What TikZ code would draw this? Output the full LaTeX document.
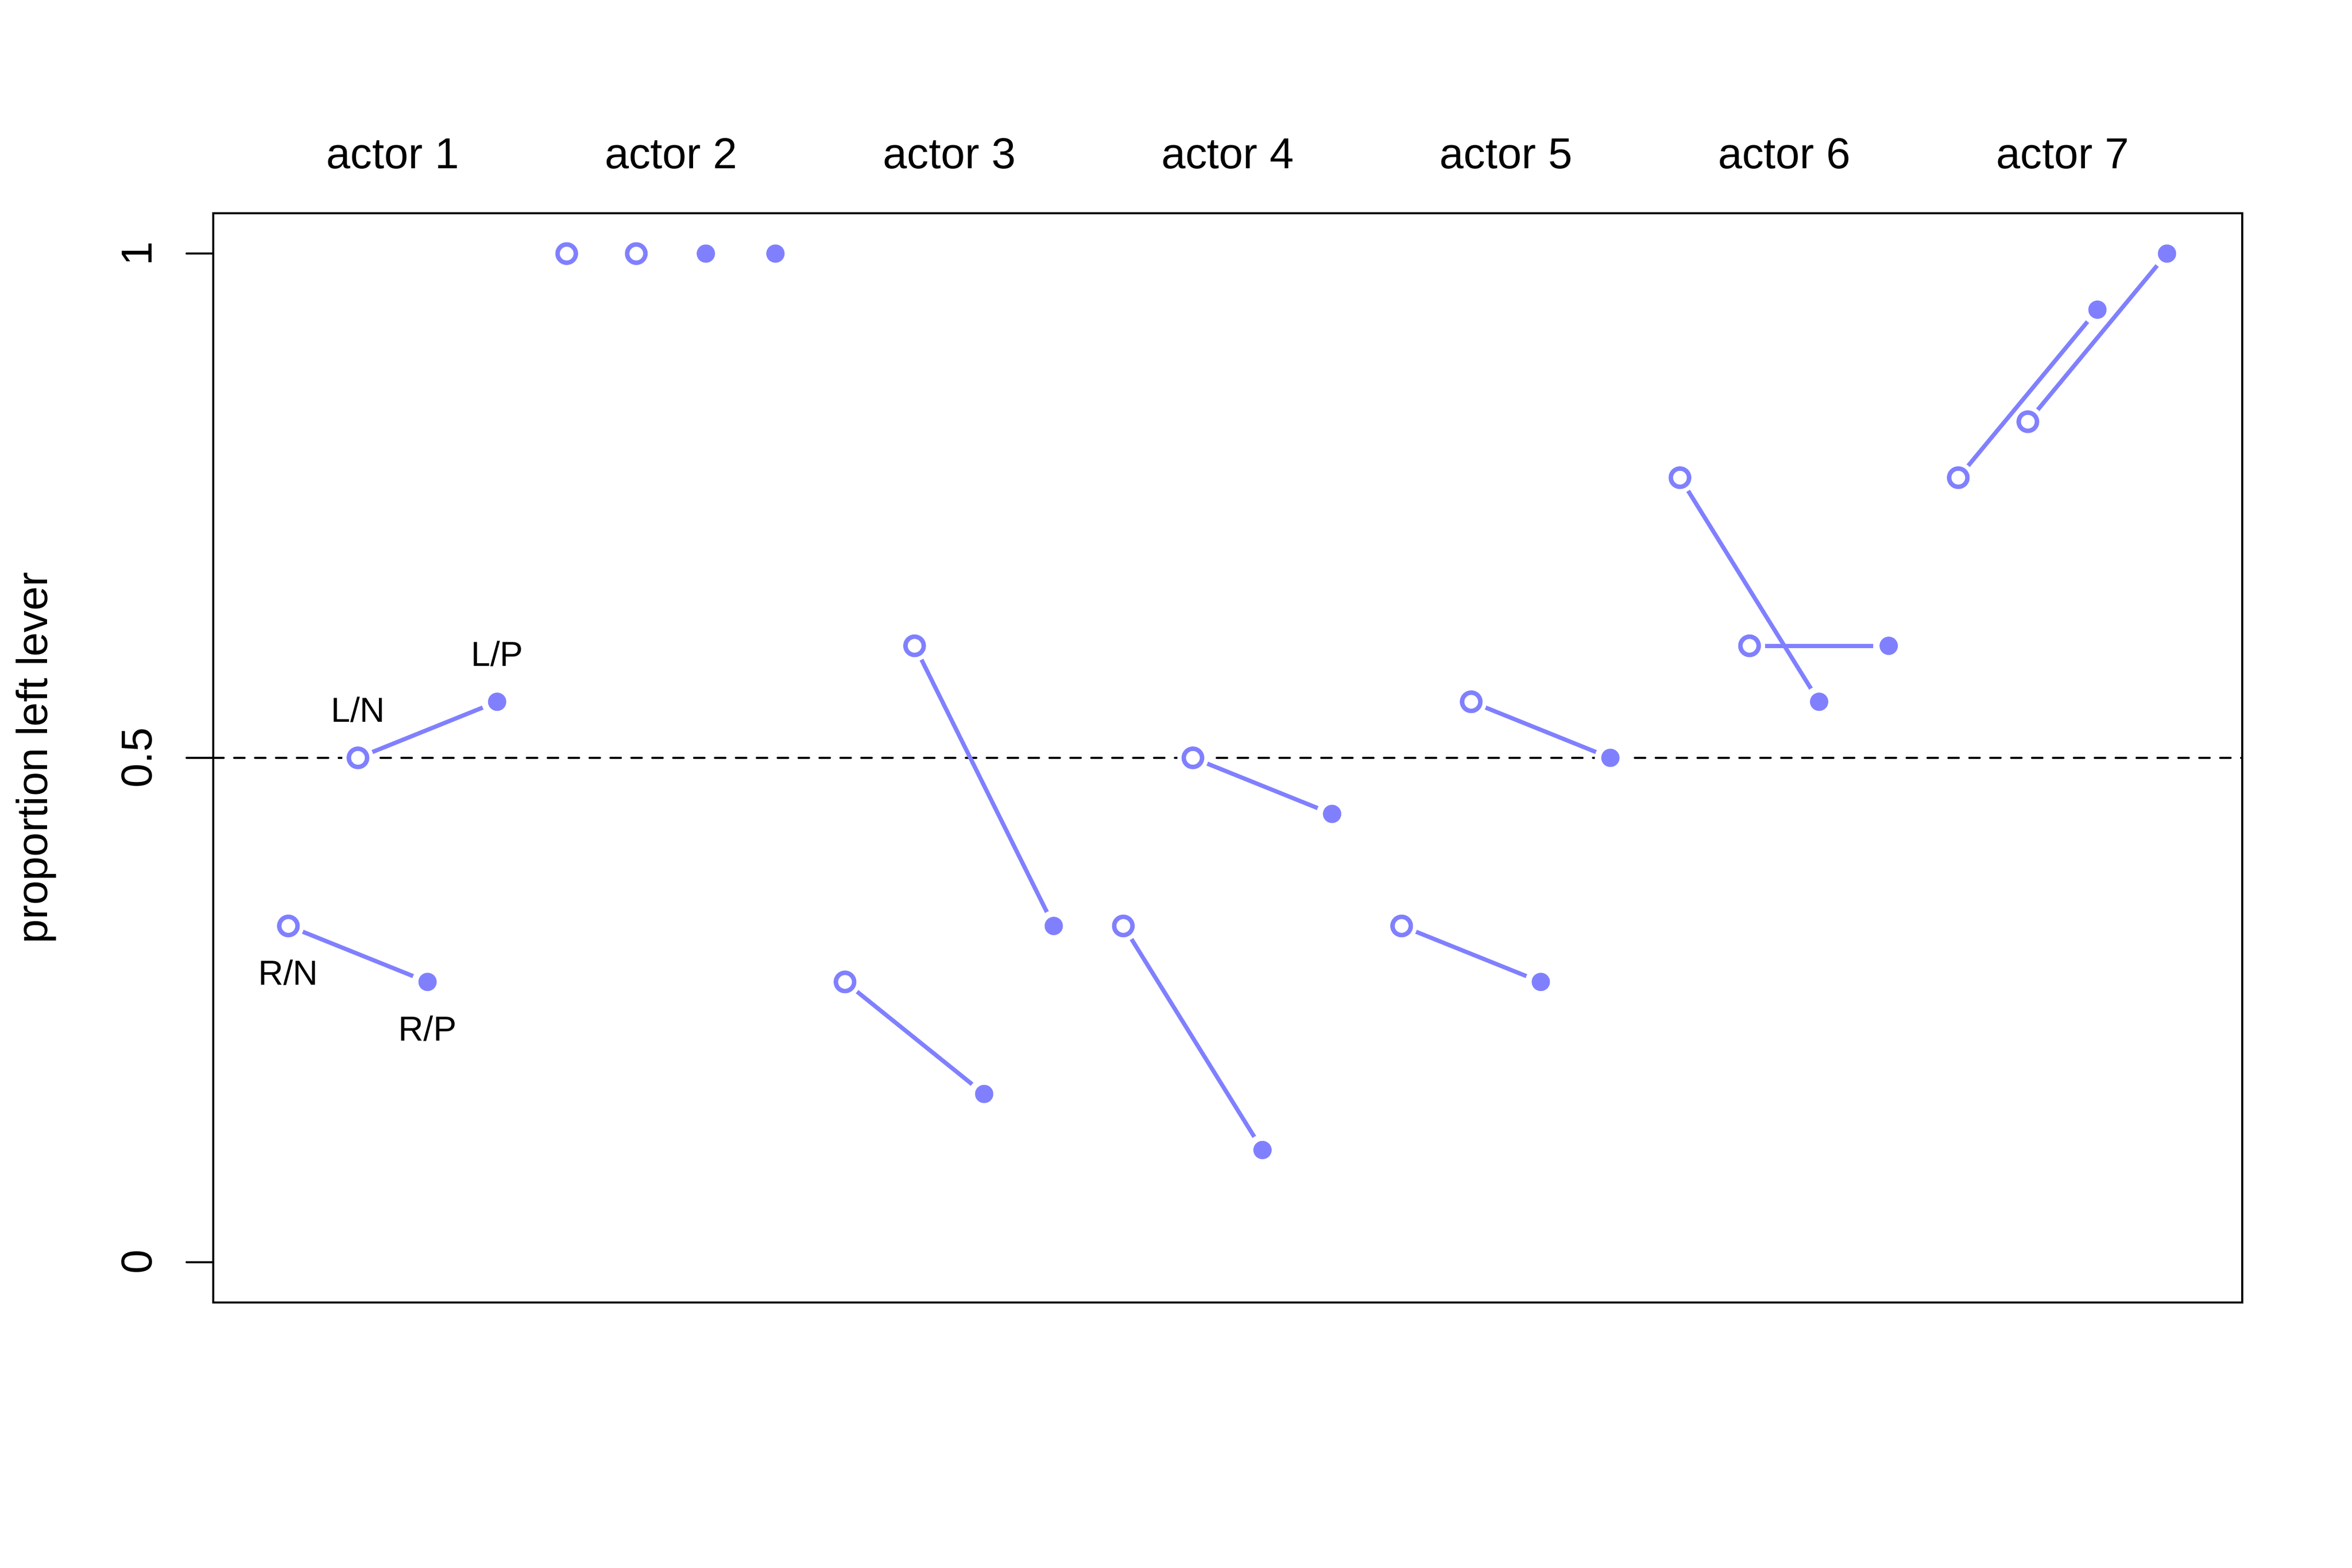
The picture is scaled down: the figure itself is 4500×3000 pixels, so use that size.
\documentclass[tikz,border=0pt]{standalone}
\usepackage{fontspec}
\setmainfont{Liberation Sans}
\definecolor{rangi}{HTML}{8080FF}
\tikzset{
  axisline/.style={line width=0.4pt, black},
  refline/.style={line width=0.4pt, black, dash pattern=on 2pt off 2pt, line cap=round},
  blueline/.style={line width=0.8pt, rangi},
  gapdot/.style={fill=white},
  openpt/.style={draw=rangi, line width=0.85pt},
  fullpt/.style={fill=rangi},
  bigtext/.style={inner sep=0pt, font=\fontsize{8.3}{10}\selectfont},
  smalltext/.style={inner sep=0pt, font=\fontsize{6.64}{8}\selectfont}
}
\begin{document}
\begin{tikzpicture}[x=0.1pt, y=-0.1pt]
\useasboundingbox (0,0) rectangle (4500,3000);
\fill[white] (0,0) rectangle (4500,3000);
\begin{scope}[shift={(41.867pt,-241.48pt)}, x=13.313pt, y=192.96pt]
  % reference line
  \coordinate (refL) at (-0.08,0.5);
  \coordinate (refR) at (29.08,0.5);
  \draw[refline] (refL) -- (refR);
  % data coordinates
  \foreach \j/\a/\b/\c/\d in {1/0.3333/0.5/0.2778/0.5556,
                              2/1/1/1/1,
                              3/0.2778/0.6111/0.1667/0.3333,
                              4/0.3333/0.5/0.1111/0.4444,
                              5/0.3333/0.5556/0.2778/0.5,
                              6/0.7778/0.6111/0.5556/0.6111,
                              7/0.7778/0.8333/0.9444/1} {
    \coordinate (p\j-1) at ({(\j-1)*4+1},\a);
    \coordinate (p\j-2) at ({(\j-1)*4+2},\b);
    \coordinate (p\j-3) at ({(\j-1)*4+3},\c);
    \coordinate (p\j-4) at ({(\j-1)*4+4},\d);
  }
  % connecting lines
  \foreach \j in {1,3,4,5,6,7} {
    \draw[blueline] (p\j-1) -- (p\j-3);
    \draw[blueline] (p\j-2) -- (p\j-4);
  }
  % white halos
  \foreach \j in {1,...,7} {
    \foreach \k in {1,...,4} {
      \fill[gapdot] (p\j-\k) circle[radius=2.975pt];
    }
  }
  % points
  \foreach \j in {1,...,7} {
    \draw[openpt] (p\j-1) circle[radius=1.75pt];
    \draw[openpt] (p\j-2) circle[radius=1.75pt];
    \fill[fullpt] (p\j-3) circle[radius=1.75pt];
    \fill[fullpt] (p\j-4) circle[radius=1.75pt];
  }
  % treatment labels
  \node[smalltext, anchor=base] (lRN) at ([yshift=-11.32pt]p1-1) {R/N};
  \node[smalltext, anchor=base] (lLN) at ([yshift=6.83pt]p1-2) {L/N};
  \node[smalltext, anchor=base] (lRP) at ([yshift=-11.32pt]p1-3) {R/P};
  \node[smalltext, anchor=base] (lLP) at ([yshift=6.83pt]p1-4) {L/P};
  % actor labels
  \foreach \j in {1,...,7} {
    \node[bigtext, anchor=base] (act\j) at ({(\j-1)*4+2.5},1.0842) {actor \j};
  }
  % box
  \draw[axisline] (-0.08,-0.04) rectangle (29.08,1.04);
  % y axis ticks and labels
  \foreach \v/\t/\n in {0/0/A,0.5/0.5/B,1/1/C} {
    \coordinate (tk\n) at (-0.08,\v);
    \draw[axisline, line cap=round] (tk\n) -- ++(-5.1pt,0);
    \node[bigtext, rotate=90, anchor=base] (tl\n) at ([xshift=-11.8pt]tk\n) {\t};
  }
  \coordinate (ymid) at (-0.08,0.5);
  \node[bigtext, rotate=90, anchor=base] (ylab) at ([xshift=-31.72pt]ymid) {proportion left lever};
\end{scope}
\end{tikzpicture}
\end{document}
